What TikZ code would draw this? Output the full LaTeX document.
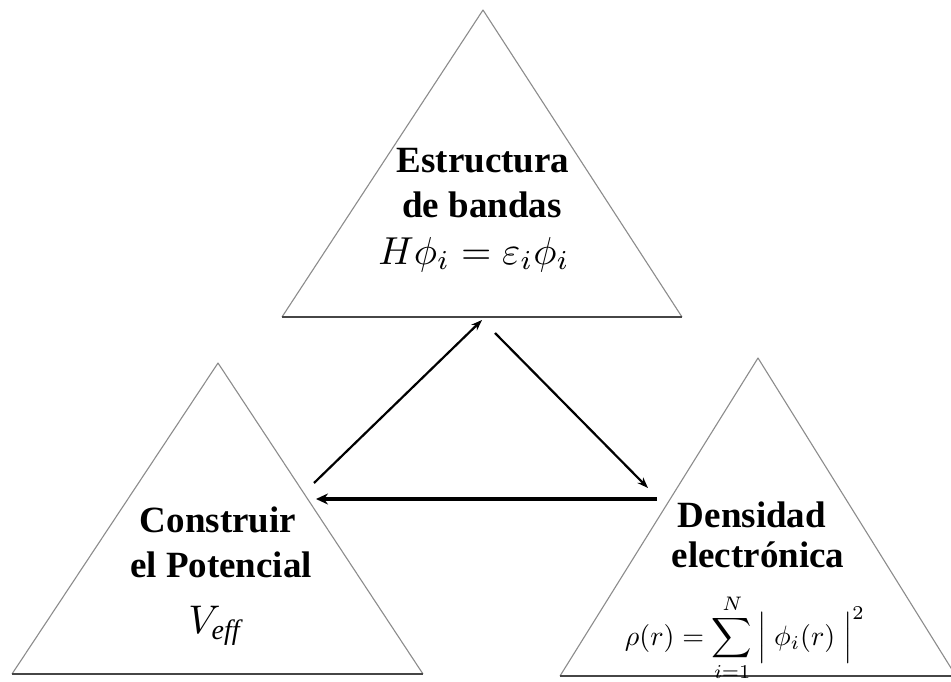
\documentclass[tikz,border=0pt]{standalone}
\usepackage{graphicx}
\usepackage{fontspec}
\setmainfont{Liberation Serif}
\usetikzlibrary{arrows.meta}
\definecolor{edgegray}{RGB}{140,140,140}
\definecolor{basegray}{RGB}{70,70,70}
\tikzset{
  triside/.style={draw=edgegray, line width=1.1pt, line join=round},
  tribase/.style={draw=basegray, line width=1.5pt},
  lbl/.style={font=\bfseries\fontsize{37}{46}\selectfont, inner sep=0pt, anchor=base},
  eqn/.style={inner sep=0pt, anchor=base},
  flow/.style={draw=black, line width=2.2pt, -{Stealth[length=11pt,width=8pt]}},
  bigflow/.style={draw=black, line width=4pt, -{Stealth[length=12pt,width=11pt]}},
}
\begin{document}
\begin{tikzpicture}[x=1pt,y=-1pt]
\useasboundingbox (0,0) rectangle (951,682);
\fill[white] (0,0) rectangle (951,682);
% top triangle
\coordinate (tA) at (483,10);
\coordinate (tL) at (282,317);
\coordinate (tR) at (682,317);
\draw[triside] (tL) -- (tA) -- (tR);
\draw[tribase] (tL) -- (tR);
% left triangle
\coordinate (lA) at (218,363);
\coordinate (lL) at (12,674);
\coordinate (lR) at (423,674);
\draw[triside] (lL) -- (lA) -- (lR);
\draw[tribase] (lL) -- (lR);
% right triangle
\coordinate (rA) at (758,358);
\coordinate (rL) at (560,676);
\coordinate (rR) at (956,676);
\draw[triside] (rL) -- (rA) -- (rR);
\draw[tribase] (rL) -- (rR);
% texts
\node[lbl] (t1) at (483,172) {Estructura};
\node[lbl] (t2) at (482,218) {de bandas};
\node[eqn] (t3) at (474,264) {\scalebox{3.9}{$H\phi_i = \varepsilon_i\phi_i$}};
\node[lbl] (l1) at (218,532) {Construir};
\node[lbl] (l2) at (221,577) {el Potencial};
\node[eqn] (l3) at (215,633) {\scalebox{4.0}{$V_{\mathit{eff}}$}};
\node[lbl] (r1) at (752,527) {Densidad};
\node[lbl] (r2) at (758,567) {electrónica};
\node[eqn] (r3) at (745,645)
  {\scalebox{2.8}{$\rho(r) = \displaystyle\sum_{i=1}^{N} \Big|\;\phi_i(r)\;\Big|^2$}};
% arrows
\coordinate (a1s) at (314,483);
\coordinate (a1e) at (482,320);
\coordinate (a2s) at (495,333);
\coordinate (a2e) at (648,488);
\coordinate (a3s) at (657,499);
\coordinate (a3e) at (316,499);
\draw[flow] (a1s) -- (a1e);
\draw[flow] (a2s) -- (a2e);
\draw[bigflow] (a3s) -- (a3e);
\end{tikzpicture}
\end{document}
